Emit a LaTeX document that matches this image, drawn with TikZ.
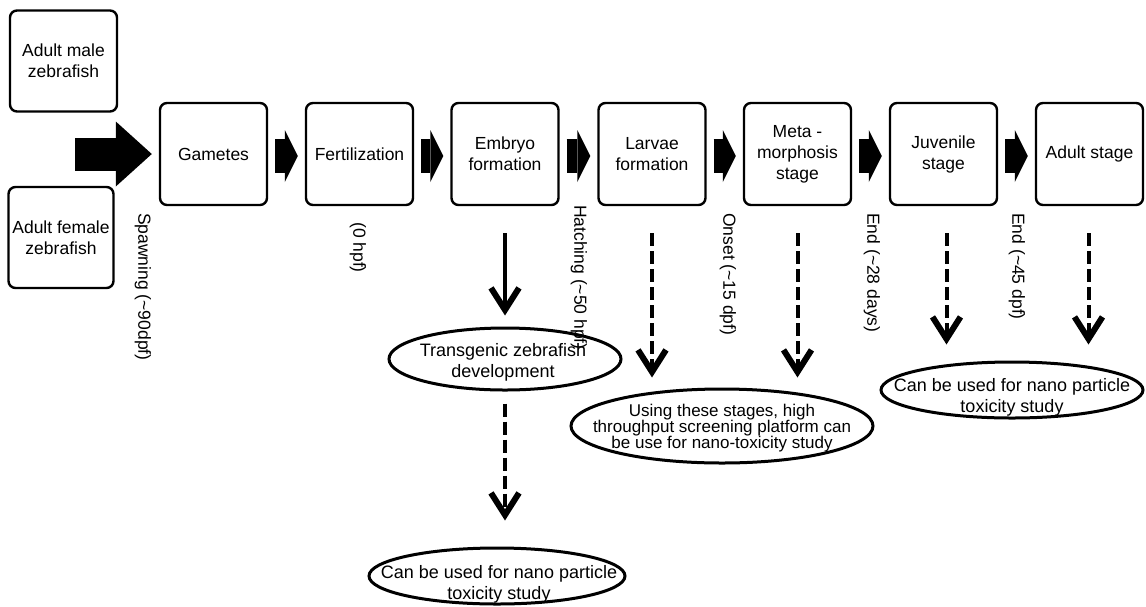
\documentclass[tikz,border=0pt]{standalone}
\usepackage{fontspec}
\setmainfont{Liberation Sans}
\usetikzlibrary{arrows.meta,shapes.geometric}
\newcommand\tightlinesfont{\fontsize{17}{16}\selectfont\lineskiplimit=-30pt\relax}
\begin{document}
\begin{tikzpicture}[x=1pt,y=-1pt,
  stagebox/.style={draw, line width=2.4pt, rounded corners=7pt, minimum width=107pt, minimum height=102pt, align=center, inner sep=2pt, font=\fontsize{17.5}{21}\selectfont},
  oval/.style={draw, ellipse, line width=3pt, inner sep=0pt},
  ovaltext/.style={align=center, inner sep=0pt, font=\fontsize{18}{21}\selectfont},
  vlabel/.style={rotate=-90, anchor=west, inner sep=0pt, font=\fontsize{17.5}{21}\selectfont},
  bigarrow/.style={line width=33pt, -{Triangle[length=36pt,width=65pt,line width=0pt]}},
  blockarrow/.style={line width=34pt, -{Triangle[length=13pt,width=52pt,line width=0pt]}},
  solidarr/.style={line width=4.5pt, -{Straight Barb[length=22pt,width=28pt,line width=6pt]}},
  dasharr/.style={line width=4pt, dash pattern=on 13pt off 5pt, -{Straight Barb[length=22pt,width=28pt,line width=6pt]}}
]
\useasboundingbox (0,0) rectangle (1146,606);

% stage boxes
\node[stagebox, minimum width=107pt, minimum height=101pt] (male) at (63.5,61) {Adult male\\zebrafish};
\node[stagebox, minimum width=105pt, minimum height=101pt] (female) at (61,237.5) {Adult female\\zebrafish};
\node[stagebox] (gam) at (213.5,154) {Gametes};
\node[stagebox] (fert) at (359.5,154) {Fertilization};
\node[stagebox] (emb) at (505,154) {Embryo\\formation};
\node[stagebox] (lar) at (652,154) {Larvae\\formation};
\node[stagebox] (meta) at (797.5,154) {Meta -\\morphosis\\stage};
\node[stagebox] (juv) at (943.5,154) {Juvenile\\stage};
\node[stagebox] (adult) at (1089.5,154) {Adult stage};

% block arrows
\coordinate (bigstart) at (75,154);
\draw[bigarrow] (bigstart) -- ([xshift=-7pt]gam.west);
\foreach \a/\b in {gam/fert, fert/emb, emb/lar, lar/meta, meta/juv, juv/adult}
  \draw[blockarrow] ([xshift=7pt,yshift=-2pt]\a.east) -- ([xshift=-7pt,yshift=-2pt]\b.west);

% vertical timing labels
\node[vlabel] (spawn) at (143,213) {Spawning (\textasciitilde 90dpf)};
\node[vlabel] (zero) at (358,222) {(0 hpf)};
\node[vlabel] (hatch) at (579,205) {Hatching (\textasciitilde 50 hpf)};
\node[vlabel] (onset) at (728,213) {Onset (\textasciitilde 15 dpf)};
\node[vlabel] (end28) at (872,213) {End (\textasciitilde 28 days)};
\node[vlabel] (end45) at (1017,213) {End (\textasciitilde 45 dpf)};

% ellipses
\node[oval, minimum width=232pt, minimum height=62pt] (trans) at (505,359) {};
\node[ovaltext] (transT) at (503,362) {Transgenic zebrafish\\development};
\node[oval, minimum width=302pt, minimum height=74pt] (screen) at (722,426) {};
\node[ovaltext, font=\tightlinesfont] (screenT) at (722,428) {Using these stages, high\\throughput screening platform can\\be use for nano-toxicity study};
\node[oval, minimum width=262pt, minimum height=56pt] (useR) at (1012,390) {};
\node[ovaltext] (useRT) at (1012,397) {Can be used for nano particle\\toxicity study};
\node[oval, minimum width=256pt, minimum height=56pt] (useB) at (497,576) {};
\node[ovaltext] (useBT) at (499,584) {Can be used for nano particle\\toxicity study};

% vertical arrows
\draw[solidarr] ([yshift=-27pt]emb.south) -- ([yshift=11pt]trans.north);
\draw[dasharr] ([yshift=-12pt]trans.south) -- ([yshift=26pt]trans.south |- useB.north);
\draw[dasharr] ([yshift=-27pt]lar.south) -- ([yshift=10pt]lar.south |- screen.north);
\draw[dasharr] ([yshift=-27pt]meta.south) -- ([yshift=10pt]meta.south |- screen.north);
\draw[dasharr] ([xshift=3pt,yshift=-27pt]juv.south) -- ([xshift=3pt,yshift=16pt]juv.south |- useR.north);
\draw[dasharr] ([xshift=-1pt,yshift=-27pt]adult.south) -- ([xshift=-1pt,yshift=16pt]adult.south |- useR.north);
\end{tikzpicture}
\end{document}
